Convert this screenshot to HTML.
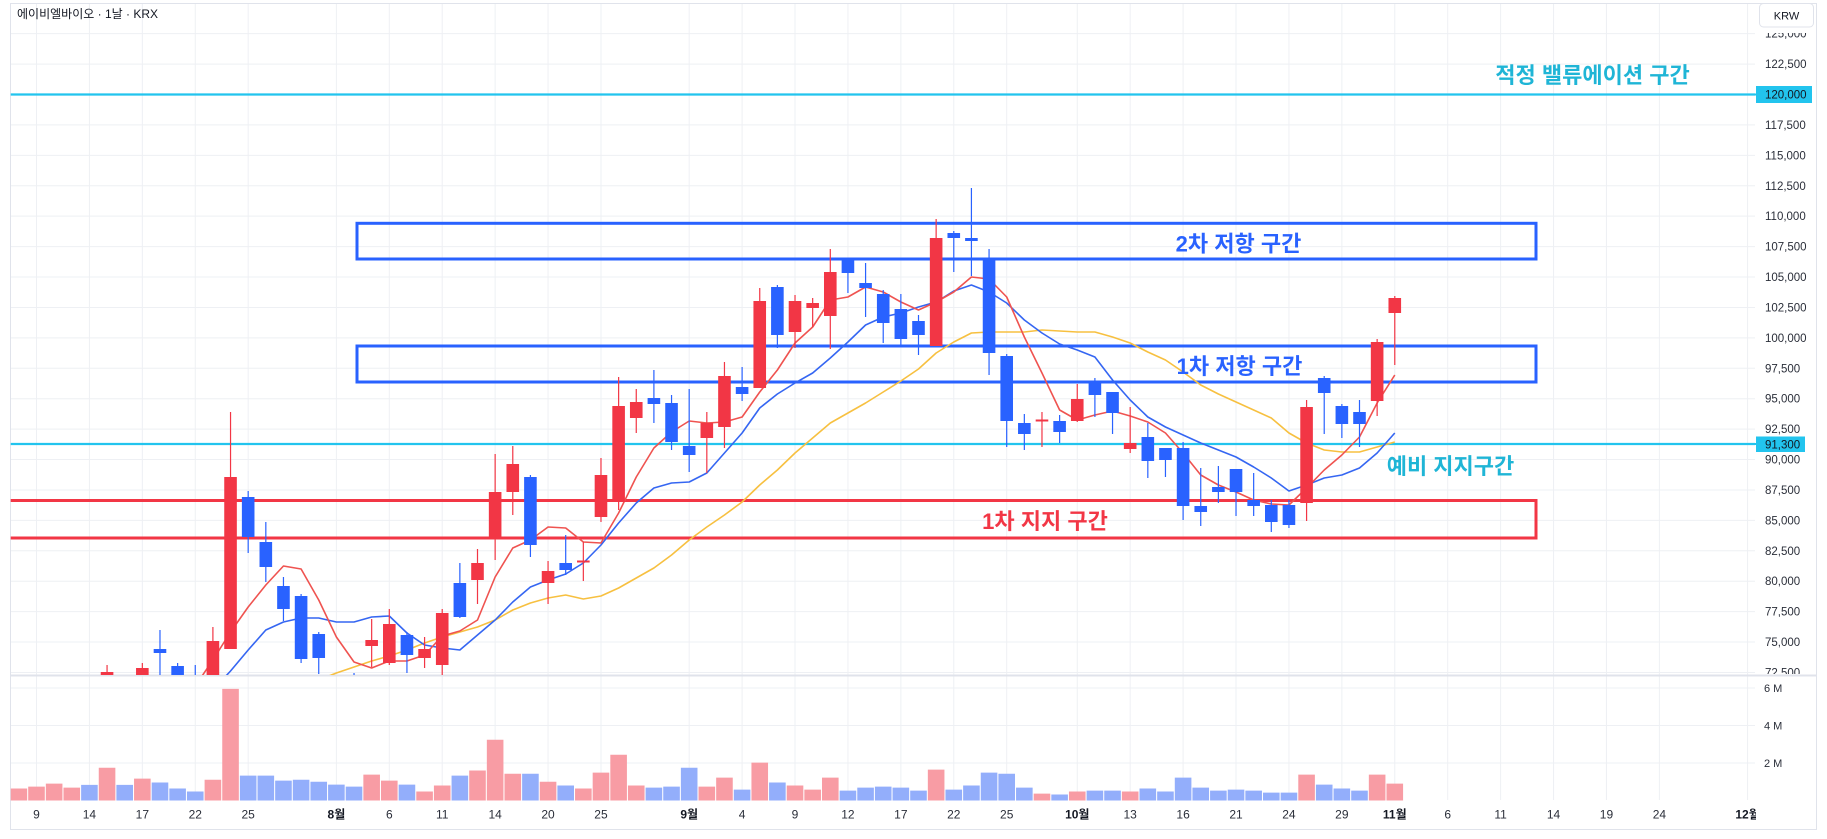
<!DOCTYPE html>
<html><head><meta charset="utf-8"><style>
html,body{margin:0;padding:0;background:#fff;}
svg{display:block;}
</style></head><body>
<svg width="1827" height="839" xmlns="http://www.w3.org/2000/svg" font-family="'Liberation Sans','Noto Sans CJK KR',sans-serif">
<defs>
<clipPath id="pp"><rect x="10.7" y="3" width="1744.3" height="672"/></clipPath>
<clipPath id="vp"><rect x="10.7" y="676" width="1744.3" height="125"/></clipPath>
<clipPath id="ax"><rect x="1755" y="33" width="70" height="641"/></clipPath>
<clipPath id="tx"><rect x="10" y="800" width="1746" height="30"/></clipPath>
</defs>
<rect x="0" y="0" width="1827" height="839" fill="#fff"/>
<!-- grid -->
<g stroke="#eef0f4" stroke-width="1" fill="none">
<path d="M36.5 3V800M89.42 3V800M142.34 3V800M195.26 3V800M248.18 3V800M336.38 3V800M389.3 3V800M442.22 3V800M495.14 3V800M548.06 3V800M600.98 3V800M689.18 3V800M742.1 3V800M795.02 3V800M847.94 3V800M900.86 3V800M953.78 3V800M1006.7 3V800M1077.26 3V800M1130.18 3V800M1183.1 3V800M1236.02 3V800M1288.94 3V800M1341.86 3V800M1394.78 3V800M1447.7 3V800M1500.62 3V800M1553.54 3V800M1606.46 3V800M1659.38 3V800M1747.58 3V800"/>
<path d="M10.7 33.66H1755M10.7 64.08H1755M10.7 94.5H1755M10.7 124.92H1755M10.7 155.34H1755M10.7 185.76H1755M10.7 216.18H1755M10.7 246.6H1755M10.7 277.02H1755M10.7 307.44H1755M10.7 337.86H1755M10.7 368.28H1755M10.7 398.7H1755M10.7 429.12H1755M10.7 459.54H1755M10.7 489.96H1755M10.7 520.38H1755M10.7 550.8H1755M10.7 581.22H1755M10.7 611.64H1755M10.7 642.06H1755M10.7 672.48H1755M10.7 688H1755M10.7 725.5H1755M10.7 763H1755"/>
</g>
<!-- frame -->
<rect x="10.5" y="3.5" width="1806" height="826" fill="none" stroke="#e0e3eb" stroke-width="1"/>
<line x1="10" y1="675.5" x2="1817" y2="675.5" stroke="#e0e3eb" stroke-width="2"/>

<g clip-path="url(#pp)">
<!-- horizontal levels -->
<line x1="10" y1="94.5" x2="1755" y2="94.5" stroke="#22c4ee" stroke-width="2.2"/>
<line x1="10" y1="444" x2="1755" y2="444" stroke="#22c4ee" stroke-width="2.2"/>
<!-- boxes -->
<rect x="357" y="223.3" width="1179" height="35.7" fill="none" stroke="#2962ff" stroke-width="3"/>
<rect x="357" y="346" width="1179" height="36" fill="none" stroke="#2962ff" stroke-width="3"/>
<rect x="6" y="500.5" width="1530" height="37.5" fill="none" stroke="#f23645" stroke-width="3"/>

<!-- moving averages -->
<polyline fill="none" stroke="#f7c040" stroke-width="1.6" stroke-linejoin="round" points="318.74,680 336.38,673 354.02,667 371.66,661 389.3,656 406.94,650 424.58,643 442.22,637 459.86,632 477.5,627 495.14,620 512.78,610 530.42,603 548.06,598 565.7,595 583.34,599 600.98,596 618.62,588 636.26,578 653.9,568 671.54,555 689.18,540 706.82,527 724.46,515 742.1,502 759.74,485 777.38,470 795.02,453 812.66,438 830.3,423 847.94,413 865.58,403 883.22,392 900.86,381 918.5,369 936.14,353 953.78,342 971.42,333 989.06,332 1006.7,332 1024.34,332 1041.98,330 1059.62,331 1077.26,332 1094.9,332 1112.54,337 1130.18,343 1147.82,352 1165.46,360 1183.1,372 1200.74,385 1218.38,394 1236.02,402 1253.66,410 1271.3,418 1288.94,433 1306.58,443 1324.22,450 1341.86,452 1359.5,452 1377.14,447 1394.78,442"/>
<polyline fill="none" stroke="#3566f2" stroke-width="1.6" stroke-linejoin="round" points="212.9,690 230.54,671 248.18,650 265.82,630 283.46,622 301.1,618 318.74,618 336.38,622 354.02,622 371.66,617 389.3,616 406.94,633 424.58,645 442.22,648 459.86,650 477.5,635 495.14,620 512.78,602 530.42,587 548.06,580 565.7,574 583.34,563 600.98,545 618.62,523 636.26,503 653.9,488 671.54,483 689.18,482 706.82,473 724.46,453 742.1,433 759.74,408 777.38,394 795.02,383 812.66,373 830.3,358 847.94,342 865.58,325 883.22,317 900.86,313 918.5,307 936.14,302 953.78,291 971.42,285 989.06,292 1006.7,303 1024.34,320 1041.98,333 1059.62,344 1077.26,350 1094.9,357 1112.54,380 1130.18,400 1147.82,417 1165.46,427 1183.1,435 1200.74,443 1218.38,450 1236.02,457 1253.66,467 1271.3,478 1288.94,491 1306.58,485 1324.22,478 1341.86,475 1359.5,468 1377.14,453 1394.78,433"/>
<polyline fill="none" stroke="#ef5350" stroke-width="1.6" stroke-linejoin="round" points="195.26,686 212.9,660 230.54,632 248.18,607 265.82,585 283.46,566 301.1,569 318.74,600 336.38,637 354.02,662 371.66,668 389.3,661 406.94,661 424.58,655 442.22,636 459.86,631 477.5,620 495.14,577 512.78,548 530.42,540 548.06,527 565.7,528 583.34,542 600.98,543 618.62,513 636.26,477 653.9,448 671.54,432 689.18,421 706.82,423 724.46,422 742.1,417 759.74,392 777.38,370 795.02,343 812.66,327 830.3,300 847.94,297 865.58,287 883.22,292 900.86,302 918.5,310 936.14,302 953.78,292 971.42,277 989.06,279 1006.7,297 1024.34,337 1041.98,373 1059.62,410 1077.26,420 1094.9,415 1112.54,411 1130.18,416 1147.82,422 1165.46,433 1183.1,453 1200.74,475 1218.38,485 1236.02,492 1253.66,500 1271.3,504 1288.94,505 1306.58,488 1324.22,470 1341.86,455 1359.5,437 1377.14,403 1394.78,375"/>

<!-- candles red -->
<path fill="none" stroke="#f23645" stroke-width="1.2" d="M107.06 665V700M142.34 663V700M212.9 627V700M230.54 412V649M371.66 619V667M389.3 609V665M424.58 637V668M442.22 609V676M477.5 549V604M495.14 454V560M512.78 446V515M548.06 561V604M583.34 542V581M600.98 458V522M618.62 377V510M636.26 389V433M706.82 412V473M724.46 362V448M759.74 288V388M795.02 295V348M812.66 298V327M830.3 249V349M936.14 219V346M1041.98 412V447M1077.26 384V422M1130.18 407V453M1306.58 400V521M1377.14 339V416M1394.78 296V365"/>
<path fill="#f23645" d="M100.76 672h12.6V700h-12.6zM136.04 668h12.6V700h-12.6zM206.6 641h12.6V700h-12.6zM224.24 477h12.6V649h-12.6zM365.36 640h12.6V646h-12.6zM383 624h12.6V663h-12.6zM418.28 649h12.6V658h-12.6zM435.92 613h12.6V665h-12.6zM471.2 563h12.6V580h-12.6zM488.84 492h12.6V538h-12.6zM506.48 464h12.6V492h-12.6zM541.76 571h12.6V583h-12.6zM577.04 560.5h12.6V562.5h-12.6zM594.68 475h12.6V517h-12.6zM612.32 406h12.6V502h-12.6zM629.96 402h12.6V418h-12.6zM700.52 423h12.6V438h-12.6zM718.16 376h12.6V427h-12.6zM753.44 301h12.6V388h-12.6zM788.72 301h12.6V332h-12.6zM806.36 303h12.6V308h-12.6zM824 272h12.6V316h-12.6zM929.84 238h12.6V346h-12.6zM1035.68 419.5h12.6V421.5h-12.6zM1070.96 399h12.6V421h-12.6zM1123.88 443h12.6V449h-12.6zM1300.28 407h12.6V503h-12.6zM1370.84 342h12.6V401h-12.6zM1388.48 298h12.6V313h-12.6z"/>
<!-- candles blue -->
<path fill="none" stroke="#2962ff" stroke-width="1.2" d="M159.98 630V690M177.62 663V700M195.26 665V700M248.18 491V553M265.82 522V582M283.46 577V621M301.1 594V663M318.74 632V674M354.02 673V700M406.94 632V673M459.86 563V618M530.42 475V557M565.7 535V575M653.9 370V423M671.54 395V450M689.18 389V472M742.1 367V401M777.38 285V348M847.94 259V293M865.58 263V317M883.22 290V343M900.86 294V345M918.5 315V355M953.78 231V272M971.42 188V276M989.06 249V375M1006.7 354V447M1024.34 414V450M1059.62 415V443M1094.9 378V417M1112.54 392V434M1147.82 423V478M1165.46 448V477M1183.1 442V520M1200.74 468V526M1218.38 466V503M1236.02 469V516M1253.66 473V516M1271.3 500V532M1288.94 500V528M1324.22 376V434M1341.86 404V438M1359.5 400V447"/>
<path fill="#2962ff" d="M153.68 649h12.6V653h-12.6zM171.32 666h12.6V700h-12.6zM188.96 680h12.6V700h-12.6zM241.88 497h12.6V537h-12.6zM259.52 542h12.6V567h-12.6zM277.16 586h12.6V609h-12.6zM294.8 596h12.6V659h-12.6zM312.44 634h12.6V658h-12.6zM347.72 680h12.6V700h-12.6zM400.64 635h12.6V655h-12.6zM453.56 583h12.6V617h-12.6zM524.12 477h12.6V545h-12.6zM559.4 563h12.6V570h-12.6zM647.6 398h12.6V404h-12.6zM665.24 403h12.6V442h-12.6zM682.88 446h12.6V455h-12.6zM735.8 387h12.6V394h-12.6zM771.08 287h12.6V335h-12.6zM841.64 259h12.6V273h-12.6zM859.28 283h12.6V288h-12.6zM876.92 294h12.6V323h-12.6zM894.56 309h12.6V339h-12.6zM912.2 321h12.6V335h-12.6zM947.48 233h12.6V238h-12.6zM965.12 238h12.6V241h-12.6zM982.76 259h12.6V353h-12.6zM1000.4 356h12.6V421h-12.6zM1018.04 423h12.6V434h-12.6zM1053.32 421h12.6V432h-12.6zM1088.6 382h12.6V395h-12.6zM1106.24 392h12.6V413h-12.6zM1141.52 437h12.6V461h-12.6zM1159.16 448h12.6V460h-12.6zM1176.8 448h12.6V506h-12.6zM1194.44 506h12.6V512h-12.6zM1212.08 487h12.6V492h-12.6zM1229.72 469h12.6V492h-12.6zM1247.36 500h12.6V506h-12.6zM1265 505h12.6V522h-12.6zM1282.64 505h12.6V525h-12.6zM1317.92 378h12.6V393h-12.6zM1335.56 406h12.6V424h-12.6zM1353.2 412h12.6V424h-12.6z"/>

<!-- annotation texts -->
<g font-weight="bold" font-size="22" text-anchor="middle">
<text x="1592.5" y="83" fill="#1fb5d6">적정 밸류에이션 구간</text>
<text x="1238.5" y="251.5" fill="#2962ff">2차 저항 구간</text>
<text x="1239.5" y="374" fill="#2962ff">1차 저항 구간</text>
<text x="1045" y="529" fill="#f23645">1차 지지 구간</text>
<text x="1450.5" y="474" fill="#1fb5d6">예비 지지구간</text>
</g>
</g>

<!-- volume -->
<g clip-path="url(#vp)">
<path fill="#f89ca4" d="M10.56 800.5v-12h16.6v12zM28.2 800.5v-13.9h16.6v13.9zM45.84 800.5v-16.9h16.6v16.9zM63.48 800.5v-12.9h16.6v12.9zM98.76 800.5v-32.8h16.6v32.8zM134.04 800.5v-21.9h16.6v21.9zM204.6 800.5v-20.8h16.6v20.8zM222.24 800.5v-111.6h16.6v111.6zM363.36 800.5v-25.9h16.6v25.9zM381 800.5v-19.9h16.6v19.9zM416.28 800.5v-9h16.6v9zM433.92 800.5v-15h16.6v15zM469.2 800.5v-30h16.6v30zM486.84 800.5v-60.8h16.6v60.8zM504.48 800.5v-26.8h16.6v26.8zM539.76 800.5v-18.8h16.6v18.8zM575.04 800.5v-12h16.6v12zM592.68 800.5v-27.9h16.6v27.9zM610.32 800.5v-45.8h16.6v45.8zM627.96 800.5v-15h16.6v15zM698.52 800.5v-13.9h16.6v13.9zM716.16 800.5v-22.9h16.6v22.9zM751.44 800.5v-37.9h16.6v37.9zM786.72 800.5v-15h16.6v15zM804.36 800.5v-10.9h16.6v10.9zM822 800.5v-22.9h16.6v22.9zM927.84 800.5v-30.9h16.6v30.9zM1033.68 800.5v-6.9h16.6v6.9zM1068.96 800.5v-9h16.6v9zM1121.88 800.5v-9h16.6v9zM1298.28 800.5v-25.9h16.6v25.9zM1368.84 800.5v-25.9h16.6v25.9zM1386.48 800.5v-16.9h16.6v16.9z"/>
<path fill="#93aefb" d="M81.12 800.5v-15.6h16.6v15.6zM116.4 800.5v-15.6h16.6v15.6zM151.68 800.5v-18h16.6v18zM169.32 800.5v-12h16.6v12zM186.96 800.5v-9h16.6v9zM239.88 800.5v-24.9h16.6v24.9zM257.52 800.5v-24.9h16.6v24.9zM275.16 800.5v-19.9h16.6v19.9zM292.8 800.5v-20.8h16.6v20.8zM310.44 800.5v-18.8h16.6v18.8zM328.08 800.5v-15.9h16.6v15.9zM345.72 800.5v-13.9h16.6v13.9zM398.64 800.5v-15.9h16.6v15.9zM451.56 800.5v-24.9h16.6v24.9zM522.12 800.5v-26.8h16.6v26.8zM557.4 800.5v-15h16.6v15zM645.6 800.5v-12.9h16.6v12.9zM663.24 800.5v-13.9h16.6v13.9zM680.88 800.5v-32.8h16.6v32.8zM733.8 800.5v-10.9h16.6v10.9zM769.08 800.5v-18h16.6v18zM839.64 800.5v-9.9h16.6v9.9zM857.28 800.5v-12.9h16.6v12.9zM874.92 800.5v-13.9h16.6v13.9zM892.56 800.5v-12.9h16.6v12.9zM910.2 800.5v-9.9h16.6v9.9zM945.48 800.5v-10.9h16.6v10.9zM963.12 800.5v-15h16.6v15zM980.76 800.5v-27.9h16.6v27.9zM998.4 800.5v-26.8h16.6v26.8zM1016.04 800.5v-12.9h16.6v12.9zM1051.32 800.5v-6h16.6v6zM1086.6 800.5v-9.9h16.6v9.9zM1104.24 800.5v-9.9h16.6v9.9zM1139.52 800.5v-12h16.6v12zM1157.16 800.5v-9h16.6v9zM1174.8 800.5v-22.9h16.6v22.9zM1192.44 800.5v-12.9h16.6v12.9zM1210.08 800.5v-9.9h16.6v9.9zM1227.72 800.5v-10.9h16.6v10.9zM1245.36 800.5v-9.9h16.6v9.9zM1263 800.5v-7.9h16.6v7.9zM1280.64 800.5v-7.9h16.6v7.9zM1315.92 800.5v-15.9h16.6v15.9zM1333.56 800.5v-12h16.6v12zM1351.2 800.5v-9.9h16.6v9.9z"/>
</g>

<!-- title -->
<text x="17" y="18" font-size="12" fill="#131722">에이비엘바이오 · 1날 · KRX</text>

<!-- price axis -->
<line x1="1755" y1="94.5" x2="1757" y2="94.5" stroke="#22c4ee" stroke-width="2"/>
<line x1="1755" y1="444" x2="1757" y2="444" stroke="#22c4ee" stroke-width="2"/>
<g clip-path="url(#ax)" font-size="11.5" fill="#2a2e39">
<text x="1765" y="37.5">125,000</text>
<text x="1765" y="68.1">122,500</text>
<text x="1765" y="128.9">117,500</text>
<text x="1765" y="159.3">115,000</text>
<text x="1765" y="189.8">112,500</text>
<text x="1765" y="220.2">110,000</text>
<text x="1765" y="250.6">107,500</text>
<text x="1765" y="281">105,000</text>
<text x="1765" y="311.4">102,500</text>
<text x="1765" y="341.9">100,000</text>
<text x="1765" y="372.3">97,500</text>
<text x="1765" y="402.7">95,000</text>
<text x="1765" y="433.1">92,500</text>
<text x="1765" y="463.5">90,000</text>
<text x="1765" y="494">87,500</text>
<text x="1765" y="524.4">85,000</text>
<text x="1765" y="554.8">82,500</text>
<text x="1765" y="585.2">80,000</text>
<text x="1765" y="615.6">77,500</text>
<text x="1765" y="646.1">75,000</text>
<text x="1765" y="676.5">72,500</text>
</g>
<rect x="1756" y="86" width="56" height="17" fill="#22c4ee"/>
<text x="1765" y="98.7" font-size="11.5" fill="#131722">120,000</text>
<rect x="1756" y="436.5" width="49" height="15.5" fill="#22c4ee"/>
<text x="1765" y="448.3" font-size="11.5" fill="#131722">91,300</text>
<rect x="1759.5" y="3.5" width="54" height="23.5" rx="4" fill="#fff" stroke="#e0e3eb"/>
<text x="1786.5" y="19.5" font-size="11" fill="#131722" text-anchor="middle">KRW</text>

<!-- volume axis -->
<g font-size="11" fill="#2a2e39">
<text x="1764" y="692">6 M</text>
<text x="1764" y="729.5">4 M</text>
<text x="1764" y="767">2 M</text>
</g>

<!-- time axis -->
<g clip-path="url(#tx)" font-size="12" fill="#2a2e39" text-anchor="middle">
<text x="36.5" y="818.5">9</text>
<text x="89.42" y="818.5">14</text>
<text x="142.34" y="818.5">17</text>
<text x="195.26" y="818.5">22</text>
<text x="248.18" y="818.5">25</text>
<text x="336.38" y="818.5" font-weight="bold" fill="#131722">8월</text>
<text x="389.3" y="818.5">6</text>
<text x="442.22" y="818.5">11</text>
<text x="495.14" y="818.5">14</text>
<text x="548.06" y="818.5">20</text>
<text x="600.98" y="818.5">25</text>
<text x="689.18" y="818.5" font-weight="bold" fill="#131722">9월</text>
<text x="742.1" y="818.5">4</text>
<text x="795.02" y="818.5">9</text>
<text x="847.94" y="818.5">12</text>
<text x="900.86" y="818.5">17</text>
<text x="953.78" y="818.5">22</text>
<text x="1006.7" y="818.5">25</text>
<text x="1077.26" y="818.5" font-weight="bold" fill="#131722">10월</text>
<text x="1130.18" y="818.5">13</text>
<text x="1183.1" y="818.5">16</text>
<text x="1236.02" y="818.5">21</text>
<text x="1288.94" y="818.5">24</text>
<text x="1341.86" y="818.5">29</text>
<text x="1394.78" y="818.5" font-weight="bold" fill="#131722">11월</text>
<text x="1447.7" y="818.5">6</text>
<text x="1500.62" y="818.5">11</text>
<text x="1553.54" y="818.5">14</text>
<text x="1606.46" y="818.5">19</text>
<text x="1659.38" y="818.5">24</text>
<text x="1747.58" y="818.5" font-weight="bold" fill="#131722">12월</text>
</g>
</svg>
</body></html>
